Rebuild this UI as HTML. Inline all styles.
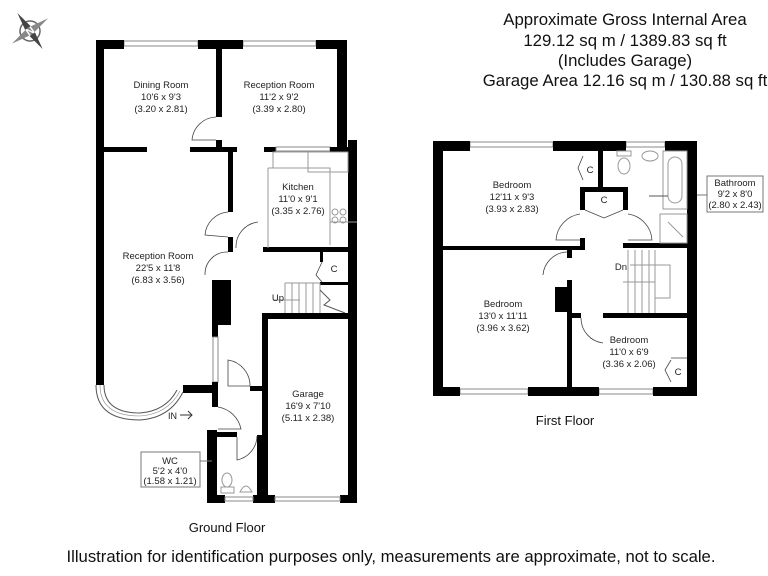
<!DOCTYPE html>
<html><head><style>
html,body{margin:0;padding:0;background:#fff;}
svg{display:block;font-family:"Liberation Sans",Arial,sans-serif;}
.l{font-size:9.5px;fill:#222;text-anchor:middle;}
.w{fill:#000;}
.win{fill:#fff;stroke:#888;stroke-width:1;}
.th{stroke:#999;stroke-width:1;fill:none;}
.dr{stroke:#444;stroke-width:0.8;fill:none;}
</style></head><body>
<svg width="768" height="576" viewBox="0 0 768 576">
<rect width="768" height="576" fill="#fff"/>
<!-- compass -->
<g transform="translate(30,31) rotate(-35)">
<circle r="10" fill="none" stroke="#666" stroke-width="1.5"/>
<polygon points="0,-22 4,0 0,22 -4,0" fill="#444"/>
<polygon points="-22,0 0,-4 22,0 0,4" fill="#888"/>
<text x="0" y="4" font-size="11" text-anchor="middle" fill="#fff" font-weight="bold">N</text>
</g>
<!-- title -->
<g font-size="16.8" text-anchor="middle" fill="#111">
<text x="625" y="25">Approximate Gross Internal Area</text>
<text x="625" y="46">129.12 sq m / 1389.83 sq ft</text>
<text x="625" y="66">(Includes Garage)</text>
<text x="625" y="86">Garage Area 12.16 sq m / 130.88 sq ft</text>
</g>

<!-- ===== GROUND FLOOR ===== -->
<rect class="win" x="124" y="41" width="74" height="5"/>
<rect class="win" x="243" y="41" width="73" height="5"/>
<rect class="w" x="96" y="40" width="28" height="9"/>
<rect class="w" x="198" y="40" width="45" height="9"/>
<rect class="w" x="316" y="40" width="31" height="9"/>
<rect class="w" x="96" y="40" width="8" height="345"/>
<rect class="w" x="337" y="40" width="10" height="107"/>
<rect class="w" x="348" y="140" width="9" height="363"/>
<rect class="w" x="216" y="49" width="6" height="68"/>
<rect class="w" x="216" y="140" width="6" height="10"/>
<rect class="w" x="96" y="147" width="51" height="5"/>
<rect class="w" x="190" y="147" width="47" height="5"/>
<rect class="w" x="264" y="147" width="12" height="5"/>
<rect class="win" x="276" y="147" width="54" height="4"/>
<rect class="w" x="330" y="147" width="27" height="5"/>
<rect class="w" x="228" y="150" width="5" height="62"/>
<rect class="w" x="228" y="237" width="5" height="15"/>
<rect class="w" x="263" y="247" width="94" height="5"/>
<rect class="th" x="273" y="152" width="35" height="16"/>
<rect class="th" x="308" y="152" width="40" height="20"/>
<path class="th" d="M268 168 H330 V222 H357 M268 168 V248 M330 222 V245"/>
<circle class="th" cx="335" cy="212" r="3"/><circle class="th" cx="343" cy="212" r="3"/>
<circle class="th" cx="335" cy="220" r="3"/><circle class="th" cx="343" cy="220" r="3"/>
<path class="dr" d="M216 117 A25 25 0 0 0 192 140 H216"/>
<path class="dr" d="M228 212 A25 25 0 0 0 205 235 L228 237"/>
<path class="dr" d="M258 222 A25 25 0 0 0 236 248"/>
<path class="dr" d="M228 252 A22 22 0 0 0 205 275"/>
<rect class="w" x="320" y="282" width="28" height="3"/>
<rect class="w" x="320" y="252" width="3" height="10"/>
<path class="dr" d="M322 262 L316 275 L322 282"/>
<text class="l" x="334" y="272">C</text>
<g class="th">
<path d="M285 283 H320 M285 283 V313 M292 283 V313 M299 283 V313 M306 283 V313 M313 283 V313 M320 283 V313"/>
<path d="M320 290 L330 300 L324 305 L345 313" stroke="#555"/>
<path d="M273 300 H300"/>
</g>
<text class="l" x="278" y="301">Up</text>
<rect class="w" x="262" y="313" width="95" height="6"/>
<rect class="w" x="262" y="313" width="6" height="190"/>
<rect class="w" x="262" y="495" width="13" height="8"/>
<rect class="w" x="340" y="495" width="17" height="8"/>
<rect class="win" x="275" y="497" width="65" height="4"/>
<rect class="w" x="212" y="280" width="19" height="45"/>
<rect class="w" x="212" y="325" width="6" height="12"/>
<rect class="win" x="213" y="337" width="5" height="45"/>
<rect class="w" x="212" y="382" width="6" height="25"/>
<rect class="w" x="183" y="385" width="35" height="8"/>
<rect class="w" x="250" y="386" width="12" height="5"/>
<rect class="w" x="207" y="430" width="10" height="73"/>
<rect class="w" x="217" y="432" width="20" height="5"/>
<rect class="w" x="257" y="435" width="5" height="68"/>
<rect class="w" x="207" y="495" width="18" height="8"/>
<rect class="w" x="253" y="495" width="14" height="8"/>
<rect class="win" x="225" y="497" width="28" height="4"/>
<path class="dr" d="M228 360 A26 26 0 0 1 250 386 H228 Z"/>
<path class="dr" d="M218 407 A28 28 0 0 1 241 429 H218"/>
<path class="dr" d="M237 437 V460 A25 25 0 0 0 257 436"/>
<text x="168" y="419" font-size="9" fill="#222">IN</text>
<path d="M180 415 H192 M188 411 L192 415 L188 419" stroke="#333" fill="none"/>
<path d="M96 385 Q96 420 140 420 Q170 418 183 392" fill="none" stroke="#555" stroke-width="1"/>
<path d="M104 385 Q104 413 140 413 Q166 411 177 390" fill="none" stroke="#555" stroke-width="1"/>
<path d="M100 385 Q100 416 140 416 Q168 414 180 391" fill="none" stroke="#888" stroke-width="0.6"/>
<ellipse class="th" cx="227" cy="480" rx="5" ry="7"/>
<rect class="th" x="221" y="487" width="13" height="6"/>
<path class="th" d="M240 492 Q246 480 252 492 Z"/>
<text class="l" x="161" y="88">Dining Room</text>
<text class="l" x="161" y="100">10'6 x 9'3</text>
<text class="l" x="161" y="112">(3.20 x 2.81)</text>
<text class="l" x="279" y="88">Reception Room</text>
<text class="l" x="279" y="100">11'2 x 9'2</text>
<text class="l" x="279" y="112">(3.39 x 2.80)</text>
<text class="l" x="298" y="190">Kitchen</text>
<text class="l" x="298" y="202">11'0 x 9'1</text>
<text class="l" x="298" y="214">(3.35 x 2.76)</text>
<text class="l" x="158" y="259">Reception Room</text>
<text class="l" x="158" y="271">22'5 x 11'8</text>
<text class="l" x="158" y="283">(6.83 x 3.56)</text>
<text class="l" x="308" y="397">Garage</text>
<text class="l" x="308" y="409">16'9 x 7'10</text>
<text class="l" x="308" y="421">(5.11 x 2.38)</text>
<rect x="141" y="452" width="59" height="35" fill="#fff" stroke="#777"/>
<path d="M200 461 H212" stroke="#777"/>
<text class="l" x="170" y="464">WC</text>
<text class="l" x="170" y="474">5'2 x 4'0</text>
<text class="l" x="170" y="484">(1.58 x 1.21)</text>
<text x="227" y="532" font-size="13" text-anchor="middle" fill="#111">Ground Floor</text>

<!-- ===== FIRST FLOOR ===== -->
<rect class="win" x="470" y="142" width="83" height="5"/>
<rect class="win" x="626" y="142" width="39" height="5"/>
<rect class="w" x="433" y="141" width="37" height="10"/>
<rect class="w" x="553" y="141" width="73" height="10"/>
<rect class="w" x="665" y="141" width="32" height="10"/>
<rect class="w" x="433" y="141" width="10" height="255"/>
<rect class="w" x="687" y="141" width="10" height="255"/>
<rect class="win" x="460" y="389" width="68" height="5"/>
<rect class="win" x="599" y="389" width="54" height="5"/>
<rect class="w" x="433" y="387" width="27" height="9"/>
<rect class="w" x="528" y="387" width="71" height="9"/>
<rect class="w" x="653" y="387" width="44" height="9"/>
<rect class="w" x="443" y="246" width="140" height="4"/>
<rect class="w" x="598" y="151" width="5" height="36"/>
<rect class="w" x="580" y="187" width="48" height="5"/>
<rect class="w" x="580" y="187" width="5" height="23"/>
<rect class="w" x="623" y="187" width="5" height="23"/>
<rect class="w" x="580" y="238" width="5" height="12"/>
<rect class="w" x="623" y="243" width="64" height="5"/>
<rect class="w" x="567" y="250" width="5" height="8"/>
<rect class="w" x="567" y="280" width="5" height="107"/>
<rect class="w" x="555" y="287" width="12" height="25"/>
<rect class="w" x="567" y="313" width="14" height="5"/>
<rect class="w" x="603" y="313" width="84" height="5"/>
<path class="dr" d="M580 214 A28 28 0 0 0 556 240 H580"/>
<path class="dr" d="M628 214 A28 28 0 0 1 652 240 H628"/>
<path class="dr" d="M585 210 L604 218 L623 210"/>
<path class="dr" d="M567 252 A25 25 0 0 0 543 275"/>
<path class="dr" d="M581 318 A25 25 0 0 0 603 343"/>
<path class="dr" d="M583 156 L578 168 L583 180"/>
<path class="dr" d="M671 360 L665 370 L671 382 M671 358 H687"/>
<text class="l" x="590" y="173">C</text>
<text class="l" x="604" y="203">C</text>
<text class="l" x="678" y="375">C</text>
<ellipse class="th" cx="624" cy="166" rx="6" ry="8"/>
<rect class="th" x="617" y="151" width="14" height="5"/>
<ellipse class="th" cx="650" cy="156" rx="8" ry="5"/>
<rect class="th" x="663" y="151" width="24" height="58"/>
<rect class="th" x="668" y="157" width="14" height="46" rx="7"/>
<rect class="th" x="660" y="214" width="27" height="29"/>
<path class="th" d="M668 222 L683 237"/>
<path d="M649 196 H668" stroke="#555"/>
<g class="th">
<path d="M628 250 V313 M635 250 V313 M642 250 V313 M649 250 V313 M655 250 V313"/>
<path d="M623 282 H655 V298 H670 V265 H630"/>
</g>
<text class="l" x="621" y="270">Dn</text>
<text class="l" x="512" y="188">Bedroom</text>
<text class="l" x="512" y="200">12'11 x 9'3</text>
<text class="l" x="512" y="212">(3.93 x 2.83)</text>
<text class="l" x="503" y="307">Bedroom</text>
<text class="l" x="503" y="319">13'0 x 11'11</text>
<text class="l" x="503" y="331">(3.96 x 3.62)</text>
<text class="l" x="629" y="343">Bedroom</text>
<text class="l" x="629" y="355">11'0 x 6'9</text>
<text class="l" x="629" y="367">(3.36 x 2.06)</text>
<rect x="707" y="176" width="56" height="36" fill="#fff" stroke="#777"/>
<path d="M697 195 H707" stroke="#777"/>
<text class="l" x="735" y="186">Bathroom</text>
<text class="l" x="735" y="197">9'2 x 8'0</text>
<text class="l" x="735" y="208">(2.80 x 2.43)</text>
<text x="565" y="425" font-size="13" text-anchor="middle" fill="#111">First Floor</text>

<text x="391" y="562" font-size="16.7" text-anchor="middle" fill="#111">Illustration for identification purposes only, measurements are approximate, not to scale.</text>
</svg>
</body></html>
